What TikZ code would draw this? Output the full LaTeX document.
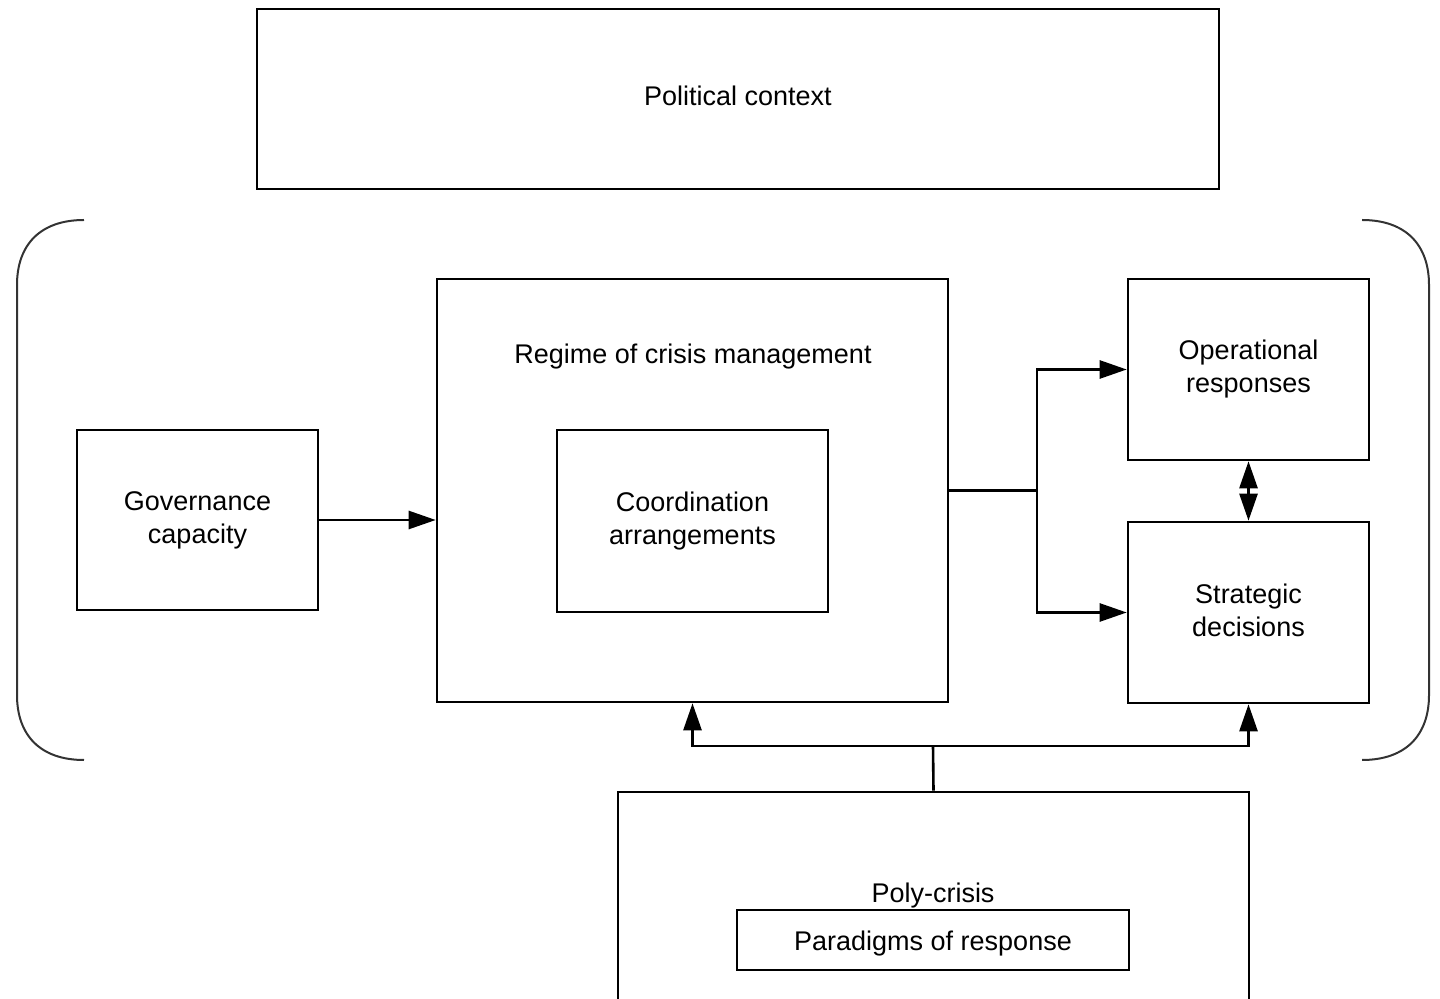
\documentclass[tikz,border=0pt]{standalone}
\usepackage{fontspec}
\setmainfont{Liberation Sans}
\usetikzlibrary{arrows.meta}
\begin{document}
\begin{tikzpicture}[x=0.5pt,y=-0.5pt,
  box/.style={draw=black,line width=1.3pt,inner sep=0pt,align=center,font=\fontsize{13.5}{16.5}\selectfont},
  lbl/.style={inner sep=0pt,align=center,font=\fontsize{13.5}{16.5}\selectfont},
  conn/.style={draw=black,line width=1.3pt},
  arr/.style={conn,-{Triangle[length=13.5pt,width=9pt]}},
  darr/.style={conn,{Triangle[length=13.5pt,width=9pt]}-{Triangle[length=13.5pt,width=9pt]}},
  bracket/.style={draw=black!80,line width=1pt}]
\useasboundingbox (0,0) rectangle (1440,999);
\begin{scope}
\clip (0,0) rectangle (1440,999);
\node[box,minimum width=481pt,minimum height=90pt] (pol) at (738,99) {};
\node[lbl] (polt) at (738,96) {Political context};
\node[box,minimum width=120.5pt,minimum height=90pt] (gov) at (197.5,520) {Governance\\capacity};
\node[box,minimum width=255.5pt,minimum height=211.5pt] (reg) at (692.5,490.5) {};
\node[lbl] (regt) at (693,357) {Regime of crisis management};
\node[box,minimum width=135.5pt,minimum height=91pt] (coord) at (692.5,521) {Coordination\\arrangements};
\node[box,minimum width=120.5pt,minimum height=90.5pt] (ops) at (1248.5,369.5) {Operational\\responses};
\node[box,minimum width=120.5pt,minimum height=90.5pt] (strat) at (1248.5,612.5) {};
\node[lbl] (stratt) at (1248.5,610) {Strategic\\decisions};
\node[box,minimum width=315.5pt,minimum height=113pt] (poly) at (933.5,905) {};
\node[lbl] (polyt) at (933,896) {Poly-crisis};
\node[box,minimum width=196pt,minimum height=30pt] (para) at (933,940) {};
\node[lbl] (parat) at (933,944) {Paradigms of response};
\coordinate (split) at (1037,490.5);
\coordinate (bus) at (933,746);
\draw[arr] (gov.east) -- (gov.east -| reg.west);
\draw[conn] (reg.east) -- (split);
\draw[arr] (split) |- (ops.west);
\draw[arr] (split) |- (strat.west);
\draw[darr] (ops.south) -- (strat.north);
\draw[conn] (poly.north) -- (bus);
\draw[arr] (bus) -| (reg.south);
\draw[arr] (bus) -| (strat.south);
\draw[bracket] (84,220) .. controls (40,220) and (17,245) .. (17,285) -- (17,695) .. controls (17,735) and (40,760) .. (84,760);
\draw[bracket] (1362,220) .. controls (1406,220) and (1429,245) .. (1429,285) -- (1429,695) .. controls (1429,735) and (1406,760) .. (1362,760);
\end{scope}
\end{tikzpicture}
\end{document}
